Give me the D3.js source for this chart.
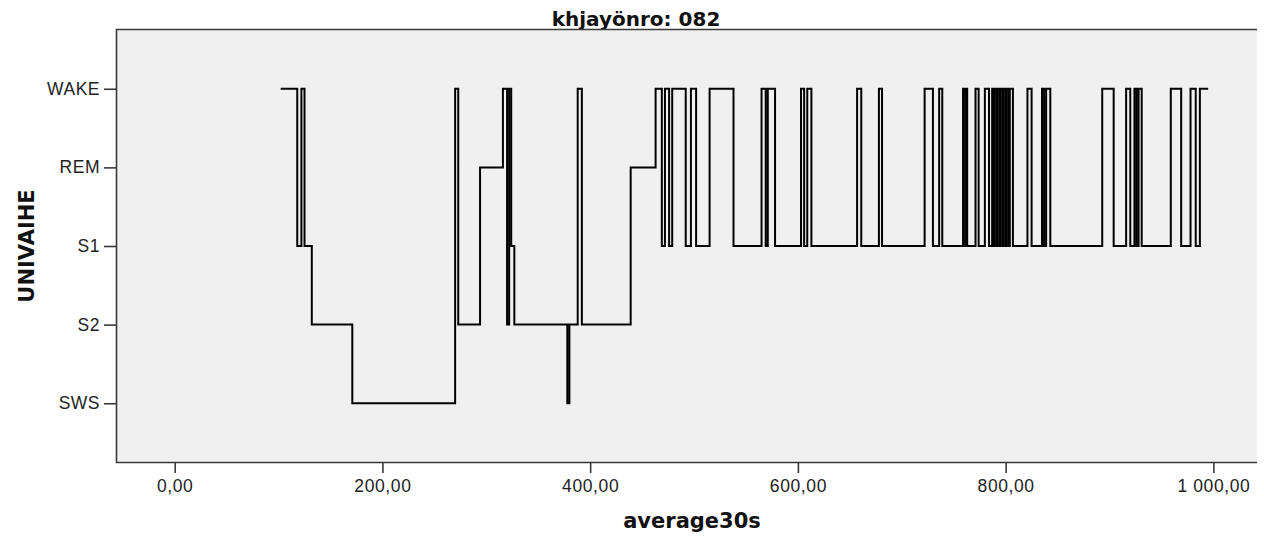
<!DOCTYPE html>
<html>
<head>
<meta charset="utf-8">
<script src="https://cdn.jsdelivr.net/npm/d3@7"></script>
<style>
  html, body { margin: 0; padding: 0; background: #fff; }
  svg { display: block; }
</style>
</head>
<body>
<svg id="chart" width="1264" height="537"></svg>
<script>
// ---------- data ----------
const chartTitle = "khjayönro: 082";
const xTitle = "average30s";
const yTitle = "UNIVAIHE";
const stageCategories = ["SWS", "S2", "S1", "REM", "WAKE"];
const xTicks = [0, 200, 400, 600, 800, 1000];

// epoch at which each stage begins (step function)
const epochStart = [102,118,122,125,132,171,270,273,294,316,320,322,324,327,378,380,388,392,439,463,
  469,472,476,479,492,497,502,515,538,565,569,571,578,603,606,609,613,657,661,678,681,722,730,736,739,
  759,761,762,763,771,774,780,784,787,788,789,791,792,794,795,797,798,800,801,803,804,807,821,825,835,
  837,839,843,893,904,916,920,924,926,928,931,959,969,978,983,987];
const epochStage = ["WAKE","S1","WAKE","S1","S2","SWS","WAKE","S2","REM","WAKE","S2","WAKE","S1","S2","SWS","S2","WAKE","S2","REM","WAKE",
  "S1","WAKE","S1","WAKE","S1","WAKE","S1","WAKE","S1","WAKE","S1","WAKE","S1","WAKE","S1","WAKE","S1","WAKE","S1","WAKE","S1","WAKE","S1","WAKE","S1",
  "WAKE","S1","WAKE","S1","WAKE","S1","WAKE","S1","WAKE","S1","WAKE","S1","WAKE","S1","WAKE","S1","WAKE","S1","WAKE","S1","WAKE","S1","WAKE","S1","WAKE",
  "S1","WAKE","S1","WAKE","S1","WAKE","S1","WAKE","S1","WAKE","S1","WAKE","S1","WAKE","S1","WAKE"];
const lastEpoch = 995;

// ---------- layout ----------
const W = 1264, H = 537;
const margin = { top: 29, right: 7, bottom: 74, left: 116 };
const iw = W - margin.left - margin.right;
const ih = H - margin.top - margin.bottom;

const svg = d3.select("#chart");

// title (drawn first, plot frame overlaps its descenders)
svg.append("text")
  .attr("x", 636).attr("y", 26)
  .attr("text-anchor", "middle")
  .attr("font-family", "'DejaVu Sans', Verdana, sans-serif")
  .attr("font-weight", "bold")
  .attr("font-size", 20)
  .attr("fill", "#111")
  .text(chartTitle);

const g = svg.append("g").attr("transform", `translate(${margin.left},${margin.top})`);

const x = d3.scaleLinear().domain([-56.5, 1042]).range([0, iw]);
const y = d3.scalePoint().domain(stageCategories).range([ih, 0]).padding(0.76);

// plot background
g.append("rect")
  .attr("x", 0).attr("y", 0).attr("width", iw).attr("height", ih)
  .attr("fill", "#f0f0f0");

// frame lines: top, left, bottom
g.append("path")
  .attr("d", `M${iw},0.5 H0.5 V${ih - 0.5} H${iw}`)
  .attr("fill", "none")
  .attr("stroke", "#3a3a3a")
  .attr("stroke-width", 1.6);

// axes
const loc = d3.formatLocale({ decimal: ",", thousands: "\u00a0", grouping: [3], currency: ["", ""] });
const fmt = loc.format(",.2f");

const xAxis = g.append("g")
  .attr("transform", `translate(0,${ih})`)
  .call(d3.axisBottom(x).tickValues(xTicks).tickSize(10).tickSizeOuter(0).tickPadding(7).tickFormat(fmt));
xAxis.select(".domain").remove();
xAxis.selectAll(".tick line").attr("stroke", "#3a3a3a").attr("stroke-width", 1.6);
xAxis.selectAll(".tick text")
  .attr("font-family", "'Liberation Sans', Arial, sans-serif")
  .attr("font-size", 17.5).attr("letter-spacing", 0.6)
  .attr("fill", "#222");

const yAxis = g.append("g")
  .call(d3.axisLeft(y).tickSize(12).tickSizeOuter(0).tickPadding(4));
yAxis.select(".domain").remove();
yAxis.selectAll(".tick line").attr("stroke", "#3a3a3a").attr("stroke-width", 1.6);
yAxis.selectAll(".tick text")
  .attr("font-family", "'Liberation Sans', Arial, sans-serif")
  .attr("font-size", 17.5).attr("letter-spacing", 0.5)
  .attr("fill", "#222");

// axis titles
svg.append("text")
  .attr("x", 692).attr("y", 528)
  .attr("text-anchor", "middle")
  .attr("font-family", "'DejaVu Sans', Verdana, sans-serif")
  .attr("font-weight", "bold")
  .attr("font-size", 21)
  .attr("fill", "#111")
  .text(xTitle);

svg.append("text")
  .attr("transform", "translate(34,246) rotate(-90)")
  .attr("text-anchor", "middle")
  .attr("font-family", "'DejaVu Sans', Verdana, sans-serif")
  .attr("font-weight", "bold")
  .attr("font-size", 21)
  .attr("fill", "#111")
  .text(yTitle);

// hypnogram line
const pts = epochStart.map((e, i) => ({ e, s: epochStage[i] }));
pts.push({ e: lastEpoch, s: epochStage[epochStage.length - 1] });

const line = d3.line()
  .x(d => x(d.e))
  .y(d => y(d.s))
  .curve(d3.curveStepAfter);

g.append("path")
  .datum(pts)
  .attr("d", line)
  .attr("fill", "none")
  .attr("stroke", "#000")
  .attr("stroke-width", 2)
  .attr("stroke-linejoin", "miter");
</script>
</body>
</html>
